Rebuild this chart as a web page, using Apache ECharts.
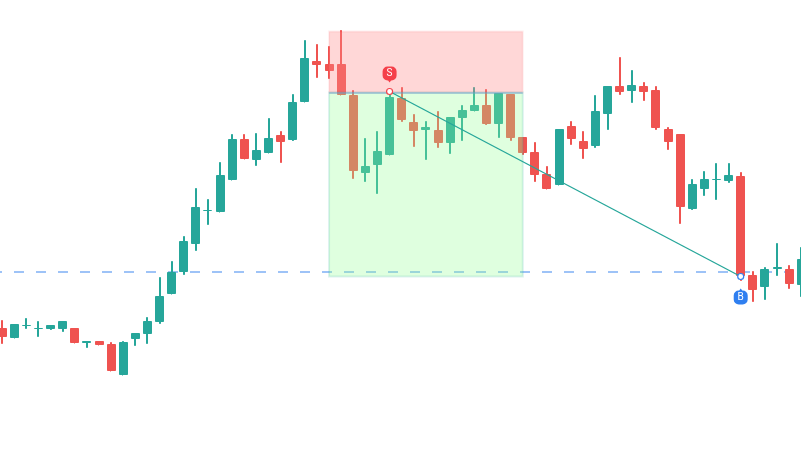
<!DOCTYPE html>
<html>
<head>
<meta charset="utf-8">
<style>html,body{margin:0;padding:0;background:#fff}#c{width:801px;height:474px}</style>
<script src="https://cdn.jsdelivr.net/npm/echarts@6/dist/echarts.min.js"></script>
</head>
<body>
<div id="c"></div>
<script>
const opens  = [146,136,148,145,145,145,146,131,133,130,99,135,140,152,180,202,230,263,262,294,335,314,321,339,334,372,413,410,410,379,301,309,319,376,352,344,344,331,356,363,369,350,380,337,322,300,289,348,333,328,360,388,383,388,384,345,340,265,285,294,293,298,199,187,205,205,189];
const closes = [137,150,149,146,149,153,131,133,129,103,132,141,153,178,202,233,267,264,299,335,315,324,336,332,372,416,409,403,379,303,308,323,377,354,343,347,331,357,364,369,350,381,336,321,299,285,345,335,325,363,388,382,389,382,346,332,267,290,295,295,299,198,184,205,207,190,215];
const lows   = [130,136,145,137,144,142,131,126,129,103,99,128,130,150,180,199,223,249,262,294,315,308,321,311,333,372,396,395,379,295,292,280,319,352,327,314,326,320,333,363,349,336,333,319,292,285,289,329,315,326,344,379,371,373,344,324,250,264,278,274,291,193,172,174,198,185,177];
const highs  = [154,150,156,153,149,153,146,133,133,132,133,141,157,197,213,238,286,275,312,340,340,341,356,343,380,434,430,428,444,384,336,343,383,387,360,353,363,357,369,387,385,381,380,337,332,308,345,353,343,379,388,417,404,392,388,347,340,295,303,311,311,302,203,207,231,209,227];

const supportLevel = 202.5;
const targetZone = {from: 27, to: 43, top: 443, mid: 382, bottom: 198};
const sellSignal = {label: 'S', index: 32, price: 383};
const buySignal  = {label: 'B', index: 61, price: 198};

const categories = opens.map((_, i) => String(i));
const UP = '#26a69a', DOWN = '#ef5350';
const SELL = '#f5404a', BUY = '#2f7ff0';

// A 1px stroke adds 1px to a mark's height, so the lower edge is raised by 1,
// while keeping open and close apart so that each candle keeps its direction.
const bodyData = opens.map((o, i) => {
  const c = closes[i];
  return c >= o ? [Math.min(o + 1, c - 0.01), c, o, c] : [o, Math.min(c + 1, o - 0.01), c, o];
});
const wickData = opens.map((o, i) => closes[i] >= o
  ? [lows[i] + 1, highs[i], lows[i] + 1, highs[i]]
  : [highs[i], lows[i] + 1, lows[i] + 1, highs[i]]);

const pinDown = 'path://M5 0H9A5 5 0 0 1 14 5V9A5 5 0 0 1 9 14H8.5L7 16L5.5 14H5A5 5 0 0 1 0 9V5A5 5 0 0 1 5 0Z';
const pinUp   = 'path://M5 16H9A5 5 0 0 0 14 11V7A5 5 0 0 0 9 2H8.5L7 0L5.5 2H5A5 5 0 0 0 0 7V11A5 5 0 0 0 5 16Z';

function signalMarks(sig, color, pin, offset, labelOffset) {
  return [
    {coord: [sig.index, sig.price], symbol: 'circle', symbolSize: 6,
     itemStyle: {color: '#fff', borderColor: color, borderWidth: 1.2}, label: {show: false}},
    {coord: [sig.index, sig.price], symbol: pin, symbolSize: [14, 16], symbolOffset: [0, offset],
     itemStyle: {color: color},
     label: {show: true, formatter: sig.label, position: 'inside', offset: labelOffset,
             color: '#fff', fontSize: 10, fontFamily: 'Roboto, sans-serif'}}
  ];
}

const chart = echarts.init(document.getElementById('c'), null, {renderer: 'canvas'});
chart.setOption({
  animation: false,
  backgroundColor: '#fff',
  grid: {left: -3.9, width: 811.2, top: 0.5, height: 474, containLabel: false, outerBoundsMode: 'none'},
  tooltip: {show: false},
  xAxis: {type: 'category', data: categories, boundaryGap: true, show: false},
  yAxis: {type: 'value', min: 0, max: 474, show: false, splitLine: {show: false}},
  series: [
    {name: 'level', type: 'line', data: [], z: 1, silent: true,
     markLine: {silent: true, symbol: 'none', label: {show: false}, z: 1,
       lineStyle: {color: '#9ec3f7', width: 2, type: [10, 12], dashOffset: 4.1, opacity: 1},
       data: [{yAxis: supportLevel}]}},
    {name: 'wicks', type: 'candlestick', data: wickData, z: 2, barWidth: 1.5, silent: true,
     itemStyle: {color: UP, color0: DOWN, borderWidth: 1, borderColor: UP, borderColor0: DOWN}},
    {name: 'bodies', type: 'candlestick', data: bodyData, z: 3, barWidth: 8.5, silent: true,
     itemStyle: {color: UP, color0: DOWN, borderWidth: 1, borderColor: UP, borderColor0: DOWN}},
    {name: 'zones', type: 'line', data: [], z: 4, silent: true,
     markArea: {silent: true, z: 4, data: [
       [{xAxis: targetZone.from, yAxis: targetZone.top,
         itemStyle: {color: 'rgba(255,141,141,0.35)', borderColor: 'rgba(240,50,60,0.08)', borderWidth: 2}},
        {xAxis: targetZone.to, yAxis: targetZone.mid}],
       [{xAxis: targetZone.from, yAxis: targetZone.mid,
         itemStyle: {color: 'rgba(150,255,150,0.3)', borderColor: 'rgba(38,166,154,0.16)', borderWidth: 2}},
        {xAxis: targetZone.to, yAxis: targetZone.bottom}]
     ]}},
    {name: 'zoneDivider', type: 'line', data: [], z: 4, silent: true,
     markLine: {silent: true, symbol: 'none', label: {show: false}, z: 4,
       lineStyle: {color: 'rgba(110,160,210,0.45)', width: 2, type: 'solid', opacity: 1},
       data: [[{coord: [targetZone.from, targetZone.mid]}, {coord: [targetZone.to, targetZone.mid]}]]}},
    {name: 'trade', type: 'line', data: [], z: 5, silent: true,
     markLine: {silent: true, symbol: 'none', label: {show: false}, z: 5,
       lineStyle: {color: UP, width: 1.3, type: 'solid', opacity: 1},
       data: [[{coord: [sellSignal.index, sellSignal.price]}, {coord: [buySignal.index, buySignal.price]}]]}},
    {name: 'signals', type: 'line', data: [], z: 6, silent: true,
     markPoint: {silent: true, z: 6, data: [
       ...signalMarks(sellSignal, SELL, pinDown, -17, [0, -1]),
       ...signalMarks(buySignal, BUY, pinUp, 20, [0, 1])
     ]}}
  ]
});
</script>
</body>
</html>
